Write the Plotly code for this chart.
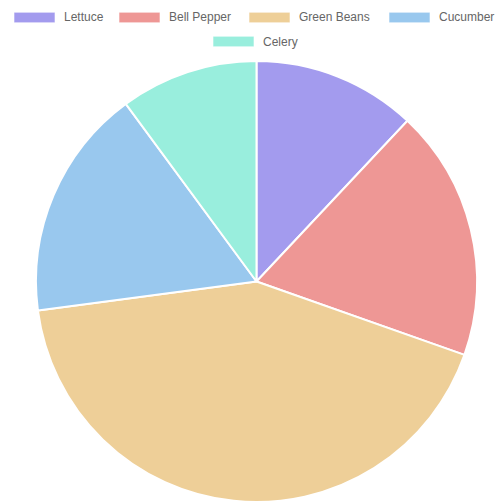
import plotly.graph_objects as go

# Vegetable shares (%)
categories = ["Lettuce", "Bell Pepper", "Green Beans", "Cucumber", "Celery"]
values = [12, 18.4, 42.5, 17, 10.1]
colors = ["#a39bee", "#ee9795", "#eecf98", "#99c8ee", "#99eedd"]

W, H = 503, 502

fig = go.Figure(
    go.Pie(
        labels=categories,
        values=values,
        sort=False,
        direction="clockwise",
        rotation=0,
        marker=dict(colors=colors, line=dict(color="#ffffff", width=2)),
        textinfo="none",
        hoverinfo="label+value",
        showlegend=False,
        domain=dict(x=[35.5 / W, 477.5 / W], y=[0.0, (H - 61) / H]),
    )
)

# Legend drawn as boxes + labels, two centred rows (Chart.js style)
legend_layout = [  # (box left px, row centre y px)
    (14, 17.5),
    (119, 17.5),
    (249, 17.5),
    (389, 17.5),
    (213, 41.5),
]
box_w, box_h, gap = 41, 10.5, 9
shapes, annotations = [], []
for name, col, (bx, cy) in zip(categories, colors, legend_layout):
    shapes.append(dict(
        type="rect", xref="paper", yref="paper",
        x0=bx / W, x1=(bx + box_w) / W,
        y0=1 - (cy + box_h / 2) / H, y1=1 - (cy - box_h / 2) / H,
        fillcolor=col, line=dict(color="rgba(255,255,255,0.6)", width=1),
        layer="above",
    ))
    annotations.append(dict(
        text=name, xref="paper", yref="paper",
        x=(bx + box_w + gap - 1) / W, y=1 - cy / H,
        xanchor="left", yanchor="middle", showarrow=False,
        font=dict(family="Liberation Sans, Arial, Helvetica, sans-serif",
                  size=12, color="#666666"),
        borderpad=0,
    ))

fig.update_layout(
    width=W, height=H, autosize=False,
    margin=dict(l=0, r=0, t=0, b=0),
    paper_bgcolor="#ffffff", plot_bgcolor="#ffffff",
    shapes=shapes, annotations=annotations,
)

fig.write_html("out.html")
